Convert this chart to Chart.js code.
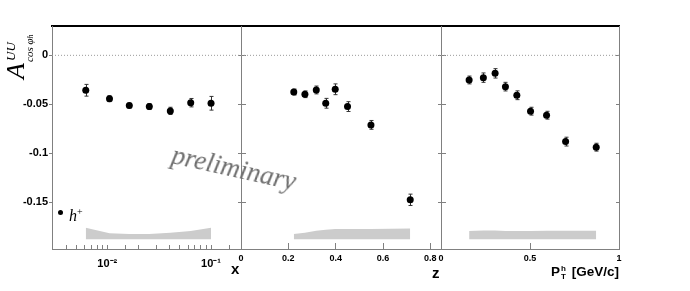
<!DOCTYPE html>
<html>
<head>
<meta charset="utf-8">
<script src="https://cdn.jsdelivr.net/npm/chart.js@4.4.0/dist/chart.umd.min.js"></script>
<style>
    body { margin: 0; background: #fff; }
    #wrap { position: relative; width: 690px; height: 291px; overflow: hidden; background: #fff; }
    canvas { position: absolute; top: 0; }
    .axtitle { position: absolute; font-family: 'Liberation Sans', Arial, sans-serif; font-weight: bold; color: #000; white-space: nowrap; line-height: 1; }
    .serif { font-family: 'Liberation Serif', 'Times New Roman', serif; font-style: italic; }
</style>
</head>
<body>
<div id="wrap">
    <canvas id="chartX" width="253" height="291" style="left:0px"></canvas>
    <canvas id="chartZ" width="251" height="291" style="left:200px"></canvas>
    <canvas id="chartPt" width="240" height="291" style="left:400px"></canvas>

    <!-- y axis title -->
    <div id="ytitle" class="serif" style="position:absolute; left:3px; top:79px; width:52px; height:36px; transform:rotate(-90deg); transform-origin:0 0;">
        <span style="position:absolute; left:0; top:0; font-size:26px; line-height:26px;">A</span>
        <span style="position:absolute; left:18px; top:1px; font-size:13px; line-height:13px;">UU</span>
        <span style="position:absolute; left:17px; top:21px; font-size:11px; line-height:11px;">cos &#966;<span style="font-size:8px;">h</span></span>
    </div>

    <!-- axis titles -->
    <div class="axtitle" style="left:231px; top:261px; font-size:15px;">x</div>
    <div class="axtitle" style="left:432px; top:265px; font-size:15px;">z</div>
    <div class="axtitle" style="left:551px; top:265px; font-size:13.5px;">P<span style="display:inline-block; vertical-align:-3px; font-size:8px; line-height:8px; text-align:center; margin-left:1px; margin-right:2px;">h<br>T</span> [GeV/c]</div>

    <!-- legend -->
    <div style="position:absolute; left:58px; top:210px; width:5px; height:5px; border-radius:50%; background:#000;"></div>
    <div class="serif" style="position:absolute; left:69px; top:204px; font-size:16px; line-height:16px;">h<span style="font-size:10px; vertical-align:6px; font-style:normal;">+</span></div>

    <!-- watermark -->
    <div class="serif" style="position:absolute; left:171px; top:141px; font-size:27px; line-height:27px; color:#6e6e6e; transform:rotate(12.5deg); transform-origin:0 70%;">preliminary</div>
</div>

<script>
// ----- DATA -----
// x bins (log axis)
const xBins    = [0.0062, 0.0105, 0.0163, 0.0254, 0.0405, 0.0637, 0.100];
const xAsym    = [-0.0357, -0.0443, -0.0514, -0.0524, -0.0568, -0.0484, -0.0490];
const xErr     = [0.0060, 0.0030, 0.0024, 0.0030, 0.0037, 0.0043, 0.0070];
const xSysTop  = [-0.1763, -0.1820, -0.1827, -0.1827, -0.1815, -0.1796, -0.1763];
const xTickVals = [0.01, 0.1];
const xTickText = ['10\u207B\u00B2', '10\u207B\u00B9'];

// z bins
const zBins    = [0.223, 0.270, 0.318, 0.358, 0.398, 0.450, 0.549, 0.715];
const zAsym    = [-0.0375, -0.0398, -0.0354, -0.0490, -0.0347, -0.0524, -0.0711, -0.1477];
const zErr     = [0.0030, 0.0034, 0.0040, 0.0050, 0.0055, 0.0050, 0.0045, 0.0058];
const zSysTop  = [-0.1827, -0.1813, -0.1793, -0.1783, -0.1776, -0.1776, -0.1776, -0.1770];

// Pt bins
const ptBins   = [0.158, 0.238, 0.304, 0.362, 0.426, 0.503, 0.593, 0.700, 0.872];
const ptAsym   = [-0.0252, -0.0228, -0.0184, -0.0320, -0.0408, -0.0571, -0.0612, -0.0882, -0.0939];
const ptErr    = [0.0040, 0.0048, 0.0048, 0.0044, 0.0045, 0.0040, 0.0040, 0.0045, 0.0040];
const ptSysTop = [-0.1796, -0.1790, -0.1790, -0.1796, -0.1796, -0.1796, -0.1793, -0.1793, -0.1793];

const sysBottom = -0.188;

// axis ranges
const yMin = -0.198, yMax = 0.030;
const xRange  = [0.00293, 0.1945];
const zRange  = [0, 0.845];
const ptRange = [0, 1];

const axisGray = '#808080';
const tickFont = { family: "'Liberation Sans', Arial, sans-serif", weight: 'bold', size: 9 };

// ----- ERROR BARS -----
const errorBarPlugin = {
    id: 'errorBars',
    beforeDatasetDraw(chart, args) {
        const ds = chart.data.datasets[args.index];
        if (!ds.errorBars) return;
        const ctx = chart.ctx;
        const yScale = chart.scales.y;
        ctx.save();
        ctx.strokeStyle = '#333';
        ctx.lineWidth = 1;
        args.meta.data.forEach((pt, i) => {
            const v = ds.data[i].y;
            const e = ds.errorBars[i];
            const px = Math.round(pt.x) + 0.5;
            const yHi = yScale.getPixelForValue(v + e);
            const yLo = yScale.getPixelForValue(v - e);
            ctx.beginPath();
            ctx.moveTo(px, yHi); ctx.lineTo(px, yLo);
            ctx.moveTo(px - 2, yHi); ctx.lineTo(px + 2, yHi);
            ctx.moveTo(px - 2, yLo); ctx.lineTo(px + 2, yLo);
            ctx.stroke();
        });
        ctx.restore();
    }
};

function toPoints(xs, ys) {
    return xs.map((x, i) => ({ x: x, y: ys[i] }));
}

function buildDatasets(bins, asym, err, sysTop, range) {
    return [
        {
            label: 'h+',
            data: toPoints(bins, asym),
            errorBars: err,
            showLine: false,
            pointRadius: 3.5,
            pointBackgroundColor: '#000',
            pointBorderWidth: 0
        },
        {
            label: 'zero',
            data: [{ x: range[0], y: 0 }, { x: range[1], y: 0 }],
            borderColor: '#9a9a9a',
            borderWidth: 1,
            borderDash: [1, 2],
            pointRadius: 0,
            fill: false
        },
        {
            label: 'sys',
            data: toPoints(bins, sysTop),
            borderWidth: 0,
            pointRadius: 0,
            backgroundColor: '#cccccc',
            fill: '+1'
        },
        {
            label: 'sysBase',
            data: bins.map(x => ({ x: x, y: sysBottom })),
            borderWidth: 0,
            pointRadius: 0,
            fill: false
        }
    ];
}

function makeChart(canvasId, datasets, xScale, leftWidth, rightPad, leftTicks, showYLabels) {
    const ctx = document.getElementById(canvasId).getContext('2d');
    return new Chart(ctx, {
        type: 'line',
        data: { datasets: datasets },
        plugins: [errorBarPlugin],
        options: {
            responsive: false,
            animation: false,
            layout: { padding: { top: 26, right: rightPad, bottom: 0, left: 0 } },
            plugins: { legend: { display: false }, tooltip: { enabled: false } },
            scales: {
                x: xScale,
                xTop: {
                    type: 'linear',
                    position: 'top',
                    ticks: { display: false },
                    grid: { display: false },
                    border: { color: '#000', width: 2 },
                    afterFit: s => { s.height = 0; }
                },
                y: {
                    type: 'linear',
                    position: 'left',
                    min: yMin,
                    max: yMax,
                    ticks: {
                        display: showYLabels,
                        stepSize: 0.05,
                        includeBounds: false,
                        padding: 1,
                        color: '#000',
                        font: { family: "'Liberation Sans', Arial, sans-serif", weight: 'bold', size: 11 },
                        callback: v => (Math.abs(v) < 1e-9 ? '0' : String(v))
                    },
                    grid: { drawOnChartArea: false, tickLength: leftTicks, color: axisGray },
                    border: { color: axisGray, width: 1 },
                    afterFit: s => { s.width = leftWidth; }
                },
                yRight: {
                    type: 'linear',
                    position: 'right',
                    min: yMin,
                    max: yMax,
                    ticks: { display: false, stepSize: 0.05, includeBounds: false },
                    grid: { drawOnChartArea: false, tickLength: -3, color: axisGray },
                    border: { color: axisGray, width: 1 },
                    afterFit: s => { s.width = 0; }
                }
            }
        }
    });
}

// ----- PANEL x -----
makeChart('chartX', buildDatasets(xBins, xAsym, xErr, xSysTop, xRange), {
    type: 'logarithmic',
    position: 'bottom',
    min: xRange[0],
    max: xRange[1],
    ticks: {
        autoSkip: false,
        maxRotation: 0,
        padding: 12,
        color: '#000',
        font: { family: "'Liberation Sans', Arial, sans-serif", weight: 'bold', size: 11 },
        callback: v => {
            const idx = xTickVals.findIndex(t => Math.abs(Math.log10(v) - Math.log10(t)) < 1e-6);
            return idx >= 0 ? xTickText[idx] : '';
        }
    },
    grid: { drawOnChartArea: false, tickLength: -4, color: axisGray },
    border: { color: axisGray, width: 1 },
    afterFit: s => { s.height = 42; }
}, 52, 12, 3, true);

// ----- PANEL z -----
makeChart('chartZ', buildDatasets(zBins, zAsym, zErr, zSysTop, zRange), {
    type: 'linear',
    position: 'bottom',
    min: zRange[0],
    max: zRange[1],
    ticks: {
        stepSize: 0.2,
        includeBounds: false,
        autoSkip: false,
        maxRotation: 0,
        padding: 10,
        color: '#000',
        font: tickFont,
        callback: v => String(Math.round(v * 10) / 10)
    },
    grid: { drawOnChartArea: false, tickLength: -6, color: axisGray },
    border: { color: axisGray, width: 1 },
    afterFit: s => { s.height = 42; }
}, 41, 10, -5, false);

// ----- PANEL Pt -----
makeChart('chartPt', buildDatasets(ptBins, ptAsym, ptErr, ptSysTop, ptRange), {
    type: 'linear',
    position: 'bottom',
    min: ptRange[0],
    max: ptRange[1],
    ticks: {
        stepSize: 0.5,
        includeBounds: false,
        autoSkip: false,
        maxRotation: 0,
        padding: 10,
        color: '#000',
        font: tickFont,
        callback: v => String(v)
    },
    grid: { drawOnChartArea: false, tickLength: -6, color: axisGray },
    border: { color: axisGray, width: 1 },
    afterFit: s => { s.height = 42; }
}, 41, 21, -5, false);
</script>
</body>
</html>
